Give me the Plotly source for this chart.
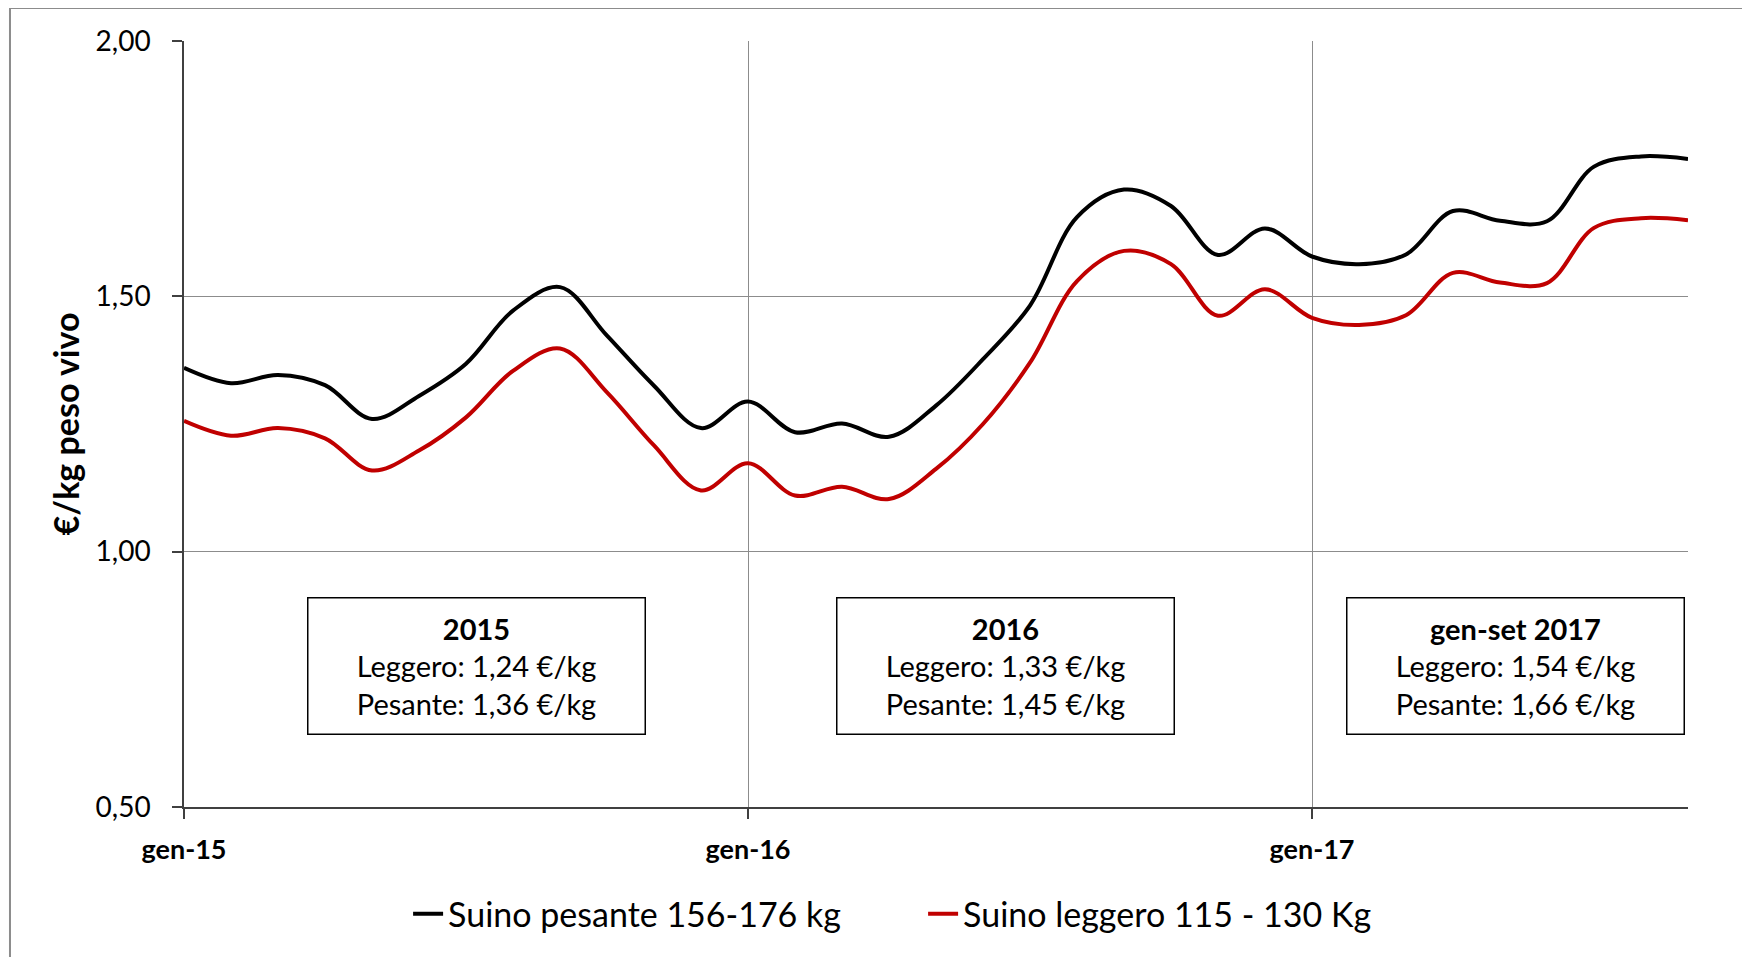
import plotly.graph_objects as go

# ---- data ----
month_names = ["gen", "feb", "mar", "apr", "mag", "giu", "lug", "ago", "set", "ott", "nov", "dic"]
months = [f"{m}-{y}" for y in ("15", "16", "17") for m in month_names][:33]

pesante = [1.360, 1.330, 1.346, 1.326, 1.260, 1.305, 1.368, 1.472, 1.518, 1.423, 1.325, 1.242,
           1.294, 1.234, 1.251, 1.225, 1.286, 1.377, 1.482, 1.655, 1.709, 1.677, 1.581, 1.633,
           1.578, 1.563, 1.582, 1.667, 1.648, 1.647, 1.754, 1.774, 1.769]
leggero = [1.256, 1.227, 1.242, 1.222, 1.159, 1.198, 1.263, 1.354, 1.398, 1.312, 1.208, 1.120,
           1.173, 1.110, 1.127, 1.103, 1.162, 1.250, 1.370, 1.530, 1.589, 1.563, 1.462, 1.514,
           1.458, 1.444, 1.463, 1.546, 1.527, 1.526, 1.634, 1.653, 1.649]

series_names = ["Suino pesante 156-176 kg", "Suino leggero 115 - 130 Kg"]
x_tickvals = ["gen-15", "gen-16", "gen-17"]
y_tickvals = [0.5, 1.0, 1.5, 2.0]
y_ticktext = ["0,50", "1,00", "1,50", "2,00"]

box_titles = ["2015", "2016", "gen-set 2017"]
box_leggero = ["1,24", "1,33", "1,54"]
box_pesante = ["1,36", "1,45", "1,66"]
box_xpos = [6.23, 17.48, 28.33]   # category index of box centres

FONT = "Lato"

fig = go.Figure()
fig.add_trace(go.Scatter(x=months, y=pesante, mode="lines", name=series_names[0],
                         line=dict(color="#000000", width=4, shape="spline", smoothing=1)))
fig.add_trace(go.Scatter(x=months, y=leggero, mode="lines", name=series_names[1],
                         line=dict(color="#C00000", width=4, shape="spline", smoothing=1)))

for t, l, p, xc in zip(box_titles, box_leggero, box_pesante, box_xpos):
    fig.add_annotation(
        x=xc, y=0.777, xref="x", yref="y",
        text=f"<b>{t}</b><br>Leggero: {l} €/kg<br>Pesante: {p} €/kg",
        showarrow=False, align="center",
        font=dict(family=FONT, size=29, color="#000000"),
        bordercolor="#000000", borderwidth=1.5, borderpad=0,
        bgcolor="#ffffff", width=336, height=135,
    )

# outer chart border
fig.add_shape(type="rect", xref="paper", yref="paper",
              x0=-0.1157, x1=1.2, y0=-0.3, y1=1.043,
              line=dict(color="#8c8c8c", width=2), layer="below")

fig.update_layout(
    width=1750, height=957,
    margin=dict(l=176, r=70, t=33, b=158),
    paper_bgcolor="#ffffff", plot_bgcolor="#ffffff",
    font=dict(family=FONT, color="#000000"),
    showlegend=True,
    legend=dict(orientation="h", x=0.149, xanchor="left", y=-0.140, yanchor="middle",
                font=dict(family=FONT, size=34, color="#000000"),
                itemwidth=30, entrywidth=470, traceorder="normal", bgcolor="rgba(0,0,0,0)"),
    xaxis=dict(
        type="category", range=[0, 32],
        tickmode="array", tickvals=x_tickvals, ticktext=x_tickvals,
        tickfont=dict(family=FONT, size=27, color="#000000", weight="bold"),
        showgrid=True, gridcolor="#8c8c8c", gridwidth=1,
        showline=True, linecolor="#404040", linewidth=1.5,
        ticks="outside", ticklen=10, tickcolor="#404040", tickwidth=1.5,
        zeroline=False, ticklabelstandoff=8,
    ),
    yaxis=dict(
        range=[0.5, 2.0],
        tickmode="array", tickvals=y_tickvals, ticktext=y_ticktext,
        tickfont=dict(family=FONT, size=28, color="#000000"),
        showgrid=True, gridcolor="#8c8c8c", gridwidth=1,
        showline=True, linecolor="#404040", linewidth=1.5,
        ticks="outside", ticklen=10, tickcolor="#404040", tickwidth=1.5,
        zeroline=False, ticklabelstandoff=16,
        title=dict(text="<b>€/kg peso vivo</b>", font=dict(family=FONT, size=34, color="#000000"),
                   standoff=6),
    ),
)

fig.write_html("out.html")
